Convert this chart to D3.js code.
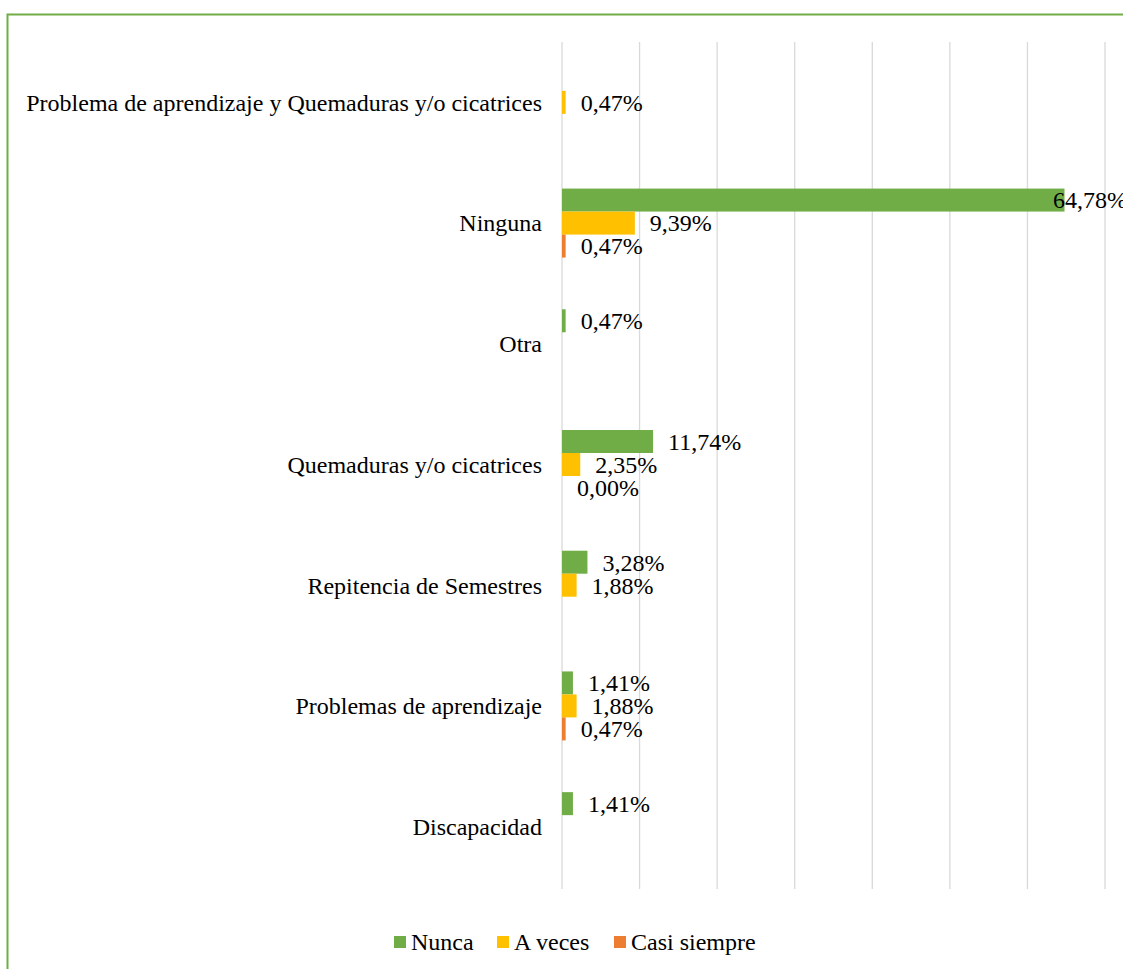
<!DOCTYPE html>
<html>
<head>
<meta charset="utf-8">
<script src="https://cdn.jsdelivr.net/npm/d3@7"></script>
<style>
  body { margin: 0; background: #fff; }
  svg { display: block; font-family: "Liberation Serif", "Times New Roman", serif; }
</style>
</head>
<body>
<svg id="chart" width="1123" height="969"></svg>
<script>
// categories top to bottom
const categories = [
  "Problema de aprendizaje y Quemaduras y/o cicatrices",
  "Ninguna",
  "Otra",
  "Quemaduras y/o cicatrices",
  "Repitencia de Semestres",
  "Problemas de aprendizaje",
  "Discapacidad"
];
const seriesNames = ["Nunca", "A veces", "Casi siempre"];
const seriesColors = ["#70AD47", "#FFC000", "#ED7D31"];

// values in %, null = no value
const nunca       = [null, 64.78, 0.47, 11.74, 3.28, 1.41, 1.41];
const aVeces      = [0.47, 9.39, null, 2.35, 1.88, 1.88, null];
const casiSiempre = [null, 0.47, null, 0.00, null, 0.47, null];
const xTicks = [0, 10, 20, 30, 40, 50, 60, 70];

const svg = d3.select("#chart");
const width = 1123, height = 969;
const fontSize = "24px";

// green frame
svg.append("rect")
  .attr("x", 7.5).attr("y", 14.5)
  .attr("width", width).attr("height", height)
  .attr("fill", "none")
  .attr("stroke", "#70AD47")
  .attr("stroke-width", 2);

const plot = { left: 562, right: 1105, top: 42, bottom: 887 };

const x = d3.scaleLinear().domain([0, 70]).range([plot.left, plot.right]);
const y = d3.scaleBand().domain(categories).range([plot.top, plot.bottom]);
const inner = d3.scaleBand().domain(seriesNames).range([y.bandwidth() / 2 - 34.5, y.bandwidth() / 2 + 34.5]);

// gridlines
svg.append("g").selectAll("line")
  .data(xTicks)
  .enter().append("line")
  .attr("x1", d => x(d)).attr("x2", d => x(d))
  .attr("y1", plot.top).attr("y2", plot.bottom + 2)
  .attr("stroke", "#D9D9D9")
  .attr("stroke-width", 1.3);

// category labels
svg.append("g").selectAll("text")
  .data(categories)
  .enter().append("text")
  .attr("x", plot.left - 20)
  .attr("y", d => y(d) + y.bandwidth() / 2)
  .attr("dy", "0.35em")
  .attr("text-anchor", "end")
  .attr("font-size", fontSize)
  .attr("fill", "#000")
  .text(d => d);

const allSeries = [nunca, aVeces, casiSiempre];
const fmt = v => v.toFixed(2).replace(".", ",") + "%";

allSeries.forEach((vals, si) => {
  const data = categories.map((c, i) => ({ cat: c, v: vals[i] })).filter(d => d.v !== null);
  const g = svg.append("g");
  g.selectAll("rect")
    .data(data)
    .enter().append("rect")
    .attr("x", x(0))
    .attr("y", d => y(d.cat) + inner(seriesNames[si]))
    .attr("width", d => x(d.v) - x(0))
    .attr("height", inner.bandwidth())
    .attr("fill", seriesColors[si]);
  g.selectAll("text")
    .data(data)
    .enter().append("text")
    .attr("x", d => Math.min(x(d.v) + 15, 1053))
    .attr("y", d => y(d.cat) + inner(seriesNames[si]) + inner.bandwidth() / 2)
    .attr("dy", "0.35em")
    .attr("font-size", fontSize)
    .attr("fill", "#000")
    .text(d => fmt(d.v));
});

// legend
const legendX = [394, 497, 614];
const legend = svg.append("g");
seriesNames.forEach((s, i) => {
  legend.append("rect")
    .attr("x", legendX[i]).attr("y", 936)
    .attr("width", 12).attr("height", 12)
    .attr("fill", seriesColors[i]);
  legend.append("text")
    .attr("x", legendX[i] + 17).attr("y", 942)
    .attr("dy", "0.35em")
    .attr("font-size", fontSize)
    .attr("fill", "#000")
    .text(s);
});
</script>
</body>
</html>
